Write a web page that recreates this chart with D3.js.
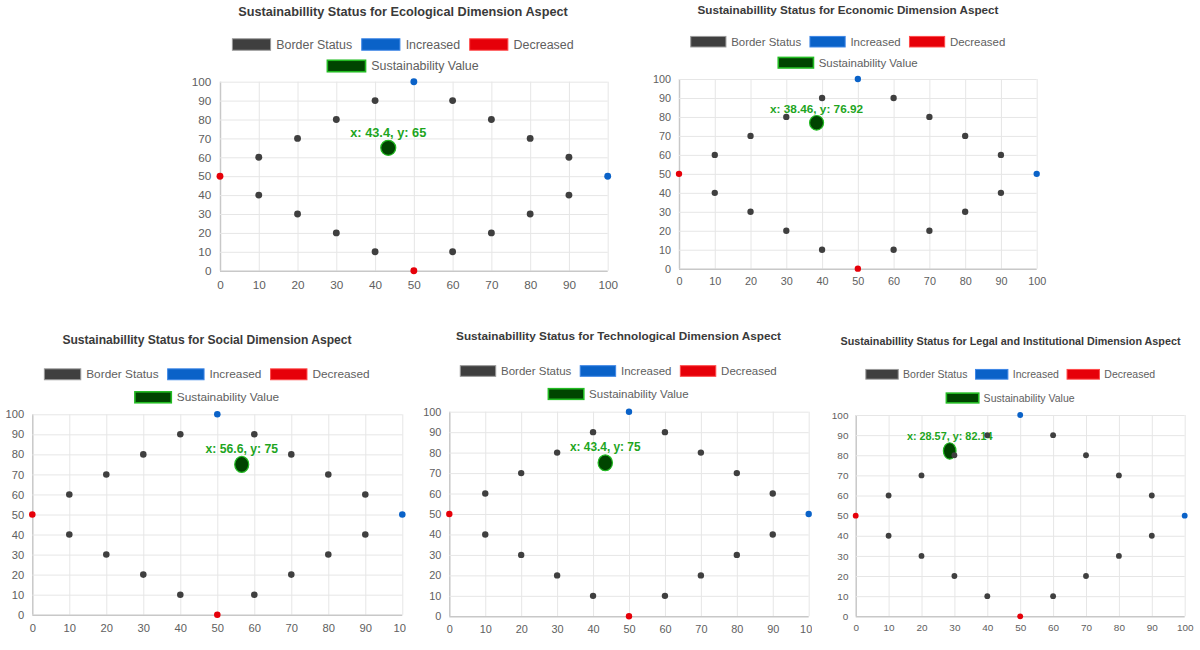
<!DOCTYPE html>
<html><head><meta charset="utf-8">
<script src="https://cdn.jsdelivr.net/npm/d3@7"></script>
<style>body{margin:0;background:#fff;} svg{display:block;font-family:"Liberation Sans",Arial,Helvetica,sans-serif;}</style>
</head><body>
<svg id="c" width="1200" height="650"></svg>
<script>
// ---- data ----
const titles = [
  "Sustainabillity Status for Ecological Dimension Aspect",
  "Sustainabillity Status for Economic Dimension Aspect",
  "Sustainabillity Status for Social Dimension Aspect",
  "Sustainabillity Status for Technological Dimension Aspect",
  "Sustainabillity Status for Legal and Institutional Dimension Aspect"
];
const legendLabels = ["Border Status", "Increased", "Decreased", "Sustainability Value"];
const borderX = [10, 20, 30, 40, 60, 70, 80, 90, 90, 80, 70, 60, 40, 30, 20, 10];
const borderY = [60, 70, 80, 90, 90, 80, 70, 60, 40, 30, 20, 10, 10, 20, 30, 40];
const increasedX = [50, 100];
const increasedY = [100, 50];
const decreasedX = [0, 50];
const decreasedY = [50, 0];
const sustX = [43.4, 38.46, 56.6, 43.4, 28.57];
const sustY = [65, 76.92, 75, 75, 82.14];
const tickValues = [0, 10, 20, 30, 40, 50, 60, 70, 80, 90, 100];

// ---- layout ----
const panels = [
  {left:220, right:607.7, top:81.7, bottom:270.7, cx:403, titleY:12, leg1Y:44.5, leg2Y:66, s:0.955, rx:7.5, ry:7.5, clip:[160,0,460,310]},
  {left:679, right:1036.7, top:79, bottom:268.7, cx:848, titleY:9, leg1Y:41.7, leg2Y:62.7, s:0.88, rx:7, ry:7.3, clip:[630,0,570,310]},
  {left:32.3, right:402.3, top:414.3, bottom:614.7, cx:207, titleY:340, leg1Y:374.3, leg2Y:397.3, s:0.91, rx:7, ry:8, clip:[0,320,406,330]},
  {left:449.3, right:808.7, top:411.7, bottom:616.3, cx:618.5, titleY:335.7, leg1Y:371, leg2Y:394, s:0.886, rx:7.2, ry:7.9, clip:[412,320,400,330]},
  {left:855.7, right:1184.7, top:415, bottom:616.3, cx:1010.5, titleY:340.7, leg1Y:374.3, leg2Y:398, s:0.81, rx:6.3, ry:8.2, clip:[818,320,382,330]}
];
const colors = {
  border: "#3f3f3f", borderStroke: "#999",
  inc: "#0a62c8", incStroke: "#3d86e6",
  dec: "#e60009", decStroke: "#ff4a4a",
  sust: "#004400", sustStroke: "#22bb22",
  label: "#1ea51e"
};

const svg = d3.select("#c");
svg.append("rect").attr("width",1200).attr("height",650).attr("fill","#fff");
const defs = svg.append("defs");

panels.forEach((p, i) => {
  const s = p.s;
  defs.append("clipPath").attr("id","clip"+i).append("rect")
    .attr("x",p.clip[0]).attr("y",p.clip[1]).attr("width",p.clip[2]).attr("height",p.clip[3]);
  const g = svg.append("g").attr("clip-path","url(#clip"+i+")");
  const x = d3.scaleLinear().domain([0,100]).range([p.left,p.right]);
  const y = d3.scaleLinear().domain([0,100]).range([p.bottom,p.top]);
  const fs = 12*s;

  // title
  g.append("text").attr("x",p.cx).attr("y",p.titleY).attr("text-anchor","middle")
    .attr("dominant-baseline","central").attr("font-weight","bold")
    .attr("font-size",13.3*s).attr("fill","#3a3a3a").text(titles[i]);

  // legend
  const items = [
    {t:legendLabels[0], f:colors.border, st:colors.borderStroke, row:0},
    {t:legendLabels[1], f:colors.inc, st:colors.incStroke, row:0},
    {t:legendLabels[2], f:colors.dec, st:colors.decStroke, row:0},
    {t:legendLabels[3], f:colors.sust, st:colors.sustStroke, row:1}
  ];
  const bw = 40*s, bh = 12*s, gap = 6*s, pad = 10*s;
  [0,1].forEach(row => {
    const rowItems = items.filter(d => d.row === row);
    const ly = row === 0 ? p.leg1Y : p.leg2Y;
    const lg = g.append("g");
    let cur = 0;
    rowItems.forEach((d, k) => {
      if (k > 0) cur += pad;
      lg.append("rect").attr("x",cur).attr("y",ly-bh/2).attr("width",bw).attr("height",bh)
        .attr("fill",d.f).attr("stroke",d.st).attr("stroke-width",row===1?1.6:1);
      const t = lg.append("text").attr("x",cur+bw+gap).attr("y",ly).attr("dominant-baseline","central")
        .attr("font-size",13*s).attr("fill","#606060").text(d.t);
      cur += bw + gap + t.node().getComputedTextLength();
    });
    lg.attr("transform",`translate(${p.cx - cur/2},0)`);
  });

  // grid + axes
  const w = p.right - p.left, h = p.bottom - p.top;
  const ya = g.append("g").attr("transform",`translate(${p.left},0)`)
    .call(d3.axisLeft(y).tickValues(tickValues).tickSize(-w).tickPadding(9*s));
  const xa = g.append("g").attr("transform",`translate(0,${p.bottom})`)
    .call(d3.axisBottom(x).tickValues(tickValues).tickSize(-h).tickPadding(10*s));
  [ya, xa].forEach(a => {
    a.select(".domain").remove();
    a.selectAll(".tick line").attr("stroke","#e6e6e6").attr("stroke-width",1);
    a.selectAll(".tick").filter(d => d === 0).select("line").attr("stroke","#c8c8c8").attr("stroke-width",1.5);
    a.selectAll(".tick text").attr("font-size",12.3*s).attr("fill","#606060")
      .attr("font-family","'Liberation Sans',Arial,sans-serif");
  });
  ya.lower(); xa.lower();

  // sustainability point + label
  g.append("ellipse").attr("cx",x(sustX[i])).attr("cy",y(sustY[i])).attr("rx",p.rx).attr("ry",p.ry)
    .attr("fill",colors.sust).attr("stroke",colors.sustStroke).attr("stroke-width",1.2);
  g.append("text").attr("x",x(sustX[i])).attr("y",y(sustY[i]) - p.ry - 8.5*s)
    .attr("text-anchor","middle").attr("dominant-baseline","central")
    .attr("font-weight","bold").attr("font-size",13.4*s).attr("fill",colors.label)
    .text(`x: ${sustX[i]}, y: ${sustY[i]}`);

  // border, increased, decreased points
  const r = 3.6*s;
  borderX.forEach((bx, k) => {
    g.append("circle").attr("cx",x(bx)).attr("cy",y(borderY[k])).attr("r",r).attr("fill",colors.border);
  });
  increasedX.forEach((bx, k) => {
    g.append("circle").attr("cx",x(bx)).attr("cy",y(increasedY[k])).attr("r",r).attr("fill",colors.inc);
  });
  decreasedX.forEach((bx, k) => {
    g.append("circle").attr("cx",x(bx)).attr("cy",y(decreasedY[k])).attr("r",r).attr("fill",colors.dec);
  });
});
</script>
</body></html>
